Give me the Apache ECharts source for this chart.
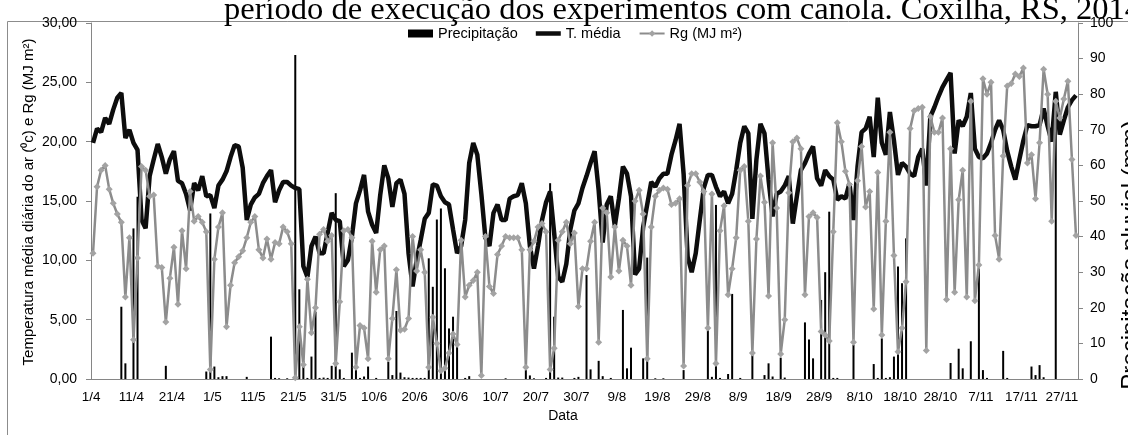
<!DOCTYPE html>
<html><head><meta charset="utf-8">
<script src="https://cdn.jsdelivr.net/npm/echarts@6/dist/echarts.min.js"></script>
<style>html,body{margin:0;padding:0;background:#fff;overflow:hidden}#c{width:1128px;height:435px}</style>
</head><body><div id="c"></div>
<script>
// Daily dates from 1/4 to 30/11 (244 days)
const nDays = 244;
const categories = [];
for (let i = 0; i < nDays; i++) {
  const d = new Date(Date.UTC(2014, 3, 1 + i));
  categories.push(d.getUTCDate() + '/' + (d.getUTCMonth() + 1));
}
const tickLabels = ['1/4','11/4','21/4','1/5','11/5','21/5','31/5','10/6','20/6','30/6','10/7','20/7','30/7','9/8','19/8','29/8','8/9','18/9','28/9','8/10','18/10','28/10','7/11','17/11','27/11'];

// Precipitação (mm) - right axis
const precip = [
0,0,0,0,0,0,0,20.3,4.4,0,
42.3,51.2,0,0,0,0,0,0,3.7,0,
0,0,0,0,0,0,0,0,2.1,46.5,
3.5,0.5,0.8,0.8,0,0,0,0,0.6,0,
0,0,0,0,11.9,0.3,0.2,0,0.2,0,
91,25.2,5.0,0.3,6.3,18.9,0.3,0.4,0.3,3.7,
52.2,2.7,0.3,0,7.4,2.5,0.3,0.7,3.5,0,
0.3,0,0,4.9,1.1,19.1,1.8,0.5,0.4,0.3,
0.3,0.3,0.3,33.9,25.9,44.8,47.9,31.1,14.2,17.5,
9.1,0,0.3,0.8,0,0,0,0,0,0,
0,0,0.2,0,0,0,0,2.5,1.0,0.2,
0,0,0.3,55,17.5,0.4,0.4,0,0,0.3,
0.6,0,29.2,2.7,0,5.1,0.8,0,0.3,0,
0,19.4,3.0,8.8,0,0,5.8,34.1,0,0.2,
0,0.2,0,0,0,0,2.5,0,0,0,
0,0,14.2,0.6,48.9,0.3,0,1.4,23.9,0,
0.3,0,0,6.7,0,0,1.1,4.4,0.7,0,
6.0,0.4,0,0,0,0,15.9,11.1,5.8,0,
22.2,30.0,47.0,0.3,0.3,0,0,0,9.6,0,
0,0,0,4.2,0.3,11.4,0.3,0.5,6.3,31.6,
26.9,39.5,0,0,0,0,0,0,0,0,
0,0,4.5,0,8.5,3.0,0,10.6,0,31,
2.5,0.3,0,0,0,7.9,0.3,0,0,0,
0,0,3.5,1.1,3.9,0.5,0,0,79,0,
0,0,0,0
];

// T. média (°C) - left axis
const tMedia = [
19.9,21.1,20.8,22.0,21.5,22.7,23.7,24.1,20.3,21.0,
19.9,19.3,13.4,12.7,17.1,18.5,19.8,18.7,17.3,18.5,
19.2,16.7,16.5,15.6,14.2,16.5,15.9,17.1,15.4,15.5,
14.4,16.3,16.8,17.5,18.7,19.7,19.6,17.8,13.4,14.7,
15.3,15.6,16.5,17.1,17.6,14.9,15.9,16.6,16.6,16.3,
16.1,16.0,9.5,8.6,11.2,12.0,10.6,10.6,12.3,14.0,
13.4,13.3,9.5,10.0,12.0,14.8,15.9,17.2,14.1,13.0,
12.3,15.5,18.0,16.9,14.5,16.5,16.8,15.6,10.6,7.8,
10.0,11.7,13.5,14.0,16.4,16.3,15.4,14.9,14.7,12.6,
10.6,11.2,13.4,18.2,19.9,18.9,15.6,11.9,11.2,14.0,
14.7,13.4,13.4,15.2,15.4,15.5,16.5,14.8,11.2,9.3,
11.2,13.4,14.9,15.8,12.3,8.6,8.2,9.7,12.6,14.2,
14.8,16.1,17.1,18.2,19.2,15.9,11.5,14.7,15.4,12.9,
15.2,17.9,17.3,15.4,8.8,9.3,12.8,14.7,16.6,16.2,
16.9,17.3,17.3,18.9,20.1,21.5,17.3,10.3,9.0,10.6,
13.4,16.1,17.2,17.2,16.2,15.4,15.8,14.8,15.6,17.6,
19.9,21.3,20.7,13.5,18.5,21.5,20.7,16.8,13.7,15.6,
15.8,16.3,17.1,13.1,15.4,17.6,18.2,19.0,19.6,16.9,
16.3,17.6,17.1,16.8,15.1,15.4,15.2,16.5,13.4,17.9,
20.8,21.1,22.1,18.7,23.7,19.9,18.9,22.5,20.1,17.2,
18.2,17.9,17.3,17.1,18.7,19.4,16.3,22.1,22.9,23.8,
24.6,25.2,25.8,19.0,21.8,21.3,22.1,24.1,19.4,18.7,
18.6,19.0,19.9,21.0,21.8,21.0,19.2,17.9,16.8,18.5,
20.1,21.4,21.3,21.3,21.4,22.8,21.3,20.0,24.2,20.6,
21.8,22.9,23.5,23.9
];

// Rg (MJ m²) - left axis
const rg = [
10.6,16.2,17.6,18.0,16.0,14.8,13.9,13.2,6.9,11.9,
3.3,10.2,17.9,17.6,15.4,15.5,9.5,9.4,4.8,8.5,
11.1,6.3,12.5,9.3,15.8,13.3,13.7,13.2,12.4,0.8,
10.1,12.8,14.0,4.4,7.9,9.8,10.3,10.8,11.9,13.2,
13.7,10.9,10.2,11.8,10.1,11.5,11.4,12.8,12.4,11.4,
0.1,4.4,1.2,8.4,3.9,6.0,12.2,12.6,11.6,12.1,
1.3,6.5,12.5,12.6,11.9,1.0,4.5,4.3,1.7,11.6,
7.3,10.9,11.2,1.7,5.1,9.2,4.1,4.2,5.1,12.0,
9.1,10.9,9.0,1.0,5.2,3.0,0.7,0.9,2.2,3.8,
2.9,11.7,6.9,7.9,8.3,9.0,0.3,12.0,7.8,7.2,
10.5,11.2,12.0,11.9,11.9,11.9,10.9,1.0,10.9,11.6,
12.8,13.1,12.4,0.8,2.6,11.7,12.4,13.2,11.4,12.3,
6.1,9.3,9.3,11.6,13.2,3.1,14.4,14.0,8.6,12.8,
9.1,11.7,11.2,7.9,15.0,15.9,13.9,1.7,12.8,15.4,
15.9,16.1,16.0,14.7,14.8,15.2,1.1,16.3,17.3,17.3,
16.6,15.8,4.3,15.6,1.3,12.5,14.6,7.1,9.3,11.9,
17.6,17.9,13.3,2.2,11.8,17.1,14.9,7.0,19.9,14.4,
2.1,5.0,15.7,20.0,20.3,19.4,7.1,13.7,14.0,13.6,
4.0,3.7,3.2,12.4,21.6,20.0,17.5,16.4,3.1,16.7,
19.6,14.5,15.8,5.9,17.4,3.7,13.3,20.8,10.4,2.3,
4.3,8.2,21.1,22.6,22.8,22.9,2.4,22.1,20.8,20.8,
22.0,6.7,19.4,7.3,15.1,17.6,6.9,23.4,6.6,9.6,
25.3,24.0,25.0,12.1,10.1,18.8,24.7,24.9,25.7,25.5,
26.2,18.2,18.9,15.2,19.9,26.1,24.0,13.3,23.4,22.0,
23.6,25.1,18.5,12.1
];

const FONT = 'Liberation Sans, Arial, sans-serif';
const axisGray = '#868686';
const showTick = (i) => i % 10 === 0 && tickLabels.indexOf(categories[i]) >= 0;

const chart = echarts.init(document.getElementById('c'), null, {renderer: 'canvas'});
chart.setOption({
  animation: false,
  backgroundColor: '#fff',
  textStyle: {fontFamily: FONT},
  grid: {left: 91, right: 50, top: 23, bottom: 56, containLabel: false},
  legend: {
    left: 408, top: 26, padding: 0, itemWidth: 25, itemHeight: 8, itemGap: 18,
    textStyle: {fontSize: 14.5, color: '#000', fontFamily: FONT},
    data: [
      {name: 'Precipitação', icon: 'rect'},
      {name: 'T. média', icon: 'path://M0,0H25V4.5H0Z'},
      'Rg (MJ m²)'
    ]
  },
  xAxis: {
    type: 'category', data: categories, boundaryGap: true,
    axisLine: {lineStyle: {color: axisGray, width: 1}},
    axisTick: {interval: showTick, alignWithLabel: false, length: 5, lineStyle: {color: axisGray}},
    axisLabel: {interval: showTick, color: '#000', fontSize: 13.5, fontFamily: FONT, margin: 11, padding: [0, 4, 0, 0]},
    splitLine: {show: false}
  },
  yAxis: [
    {
      type: 'value', min: 0, max: 30, interval: 5, position: 'left',
      axisLine: {show: true, lineStyle: {color: axisGray}},
      axisTick: {show: true, length: 5, lineStyle: {color: axisGray}},
      axisLabel: {formatter: v => v.toFixed(2).replace('.', ','), color: '#000', fontSize: 14, fontFamily: FONT, margin: 14},
      splitLine: {show: false}
    },
    {
      type: 'value', min: 0, max: 100, interval: 10, position: 'right',
      axisLine: {show: true, lineStyle: {color: axisGray}},
      axisTick: {show: true, length: 5, lineStyle: {color: axisGray}},
      axisLabel: {color: '#000', fontSize: 14, fontFamily: FONT, margin: 12},
      splitLine: {show: false}
    }
  ],
  series: [
    {name: 'Precipitação', type: 'bar', yAxisIndex: 1, data: precip, barWidth: 2,
     itemStyle: {color: '#000'}, z: 1},
    {name: 'T. média', type: 'line', yAxisIndex: 0, data: tMedia, symbol: 'none', showSymbol: false,
     lineStyle: {color: '#0d0d0d', width: 4.5}, itemStyle: {color: '#0d0d0d'}, z: 2},
    {name: 'Rg (MJ m²)', type: 'line', yAxisIndex: 0, data: rg, symbol: 'diamond', symbolSize: 7,
     showAllSymbol: true,
     itemStyle: {color: '#a3a3a3'}, lineStyle: {color: '#8c8c8c', width: 2.5}, z: 3}
  ],
  graphic: [
    {type: 'rect', shape: {x: 7.5, y: 21.5, width: 1300, height: 600}, style: {fill: 'none', stroke: '#8c8c8c', lineWidth: 1}, silent: true, z: -1},
    {type: 'text', x: 224, y: 10, style: {text: 'período de execução dos experimentos com canola. Coxilha, RS, 2014', font: '32.5px "Liberation Serif", "Times New Roman", serif', fill: '#000', align: 'left', verticalAlign: 'middle'}},
    {type: 'text', x: 29, y: 202, rotation: Math.PI / 2, style: {text: 'Temperatura média diária do ar (⁰c) e Rg (MJ m²)', font: '15px ' + FONT, fill: '#000', align: 'center', verticalAlign: 'middle'}},
    {type: 'text', x: 1131, y: 255, rotation: Math.PI / 2, style: {text: 'Precipitação pluvial (mm)', font: '24px ' + FONT, fill: '#000', align: 'center', verticalAlign: 'middle'}},
    {type: 'text', x: 563, y: 416, style: {text: 'Data', font: '14px ' + FONT, fill: '#000', align: 'center', verticalAlign: 'middle'}}
  ]
});
</script></body></html>
